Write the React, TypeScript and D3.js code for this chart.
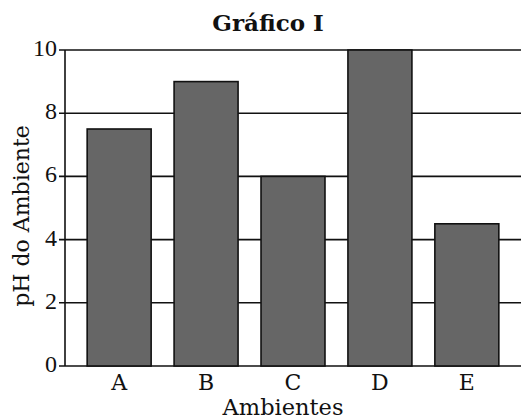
import React from "react";
import * as d3 from "d3";

const categories = ["A", "B", "C", "D", "E"];
const values = [7.5, 9, 6, 10, 4.5];
const yTicks = [0, 2, 4, 6, 8, 10];
const title = "Gráfico I";
const xTitle = "Ambientes";
const yTitle = "pH do Ambiente";

const W = 521;
const H = 420;
const left = 65;
const right = 521;
const top = 50;
const bottom = 366;
const FONT = "'DejaVu Serif', serif";
const NUMFONT = "'Liberation Serif', serif";

export default function App() {
  const x = d3.scaleBand<string>().domain(categories).range([left, right]).paddingInner(0.264).paddingOuter(0.255);
  const y = d3.scaleLinear().domain([0, 10]).range([bottom, top]);
  return (
    <svg width={W} height={H} style={{ position: "absolute", left: 0, top: 0 }}>
      <text x={268} y={31} textAnchor="middle" fontFamily={FONT} fontWeight="bold" fontSize={23} fill="#111">{title}</text>
      {yTicks.map((t) => (
        <g key={t}>
          <line x1={left - 6} x2={right} y1={y(t)} y2={y(t)} stroke="#111" strokeWidth={1.6} />
          <text x={57} y={y(t) + 6} textAnchor="end" fontFamily={NUMFONT} fontSize={24} fill="#111">{t}</text>
        </g>
      ))}
      <line x1={left} x2={left} y1={top} y2={bottom} stroke="#111" strokeWidth={1.6} />
      {categories.map((c, i) => (
        <g key={c}>
          <rect x={x(c)} y={y(values[i])} width={x.bandwidth()} height={bottom - y(values[i])} fill="#666666" stroke="#111" strokeWidth={1.6} />
          <text x={(x(c) as number) + x.bandwidth() / 2} y={390} textAnchor="middle" fontFamily={FONT} fontSize={22} fill="#111">{c}</text>
        </g>
      ))}
      <text x={283} y={415} textAnchor="middle" fontFamily={FONT} fontSize={22.5} fill="#111">{xTitle}</text>
      <text transform={`translate(29,216) rotate(-90)`} textAnchor="middle" fontFamily={FONT} fontSize={22} fill="#111">{yTitle}</text>
    </svg>
  );
}
